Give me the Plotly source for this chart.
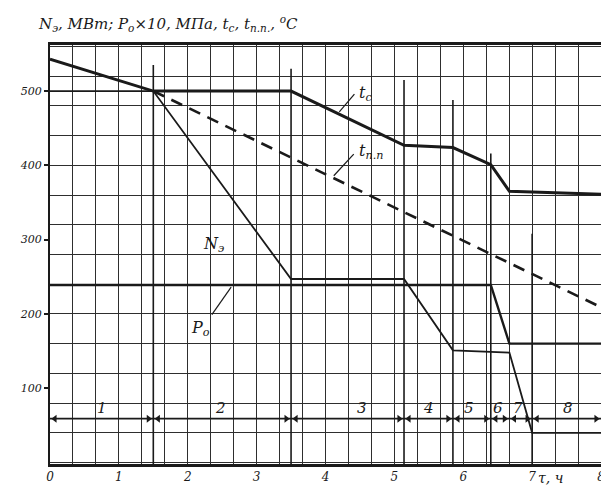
import plotly.graph_objects as go

# ---------------- data ----------------
t_c_time = [0, 1.5, 3.5, 5.14, 5.85, 6.4, 6.67, 8]
t_c_val = [543, 500, 500, 427, 424, 401, 365, 361]

t_pp_time = [1.5, 8]
t_pp_val = [500, 209]

n_e_time = [0, 1.5, 3.5, 5.14, 5.85, 6.67, 7.0, 8]
n_e_val = [500, 500, 247, 247, 151, 148, 40, 40]

p0_time = [0, 6.4, 6.67, 8]
p0_val = [239, 239, 160, 160]

event_times = [1.5, 3.5, 5.14, 5.85, 6.4, 7.0]
event_tops = [535, 530, 515, 488, 416, 308]

phase_bounds = [0, 1.5, 3.5, 5.14, 5.85, 6.4, 6.67, 7.0, 8]
phase_labels = ["1", "2", "3", "4", "5", "6", "7", "8"]
phase_label_x = [0.75, 2.48, 4.53, 5.49, 6.09, 6.5, 6.8, 7.52]
phase_line_level = 59
phase_label_level = 73

# leader lines: (x0, y0, x1, y1)
leader_tc = [4.2, 472, 4.42, 496]
leader_tpp = [4.12, 386, 4.41, 415]
leader_p0 = [2.35, 199, 2.63, 236]

x_tick_vals = [0, 1, 2, 3, 4, 5, 6, 7, 8]
x_tick_text = ["0", "1", "2", "3", "4", "5", "6", "7", "8"]
y_tick_vals = [100, 200, 300, 400, 500]
y_tick_text = ["100", "200", "300", "400", "500"]

INK = "#1a1a1a"
GRID = "#2e2e2e"
HAND = "DejaVu Serif"

fig = go.Figure()

# event verticals
for t, top in zip(event_times, event_tops):
    fig.add_trace(go.Scatter(x=[t, t], y=[top, -2], mode="lines",
                             line=dict(color=INK, width=1.6),
                             hoverinfo="skip", showlegend=False))

# phase base line
fig.add_trace(go.Scatter(x=[0, 8], y=[phase_line_level, phase_line_level], mode="lines",
                         line=dict(color=INK, width=1.8), hoverinfo="skip", showlegend=False))

# phase arrowheads (pointing outward to each segment boundary)
arrow_right_x = [b - 0.07 for b in phase_bounds[1:]]
arrow_left_x = [a + 0.07 for a in phase_bounds[:-1]]
fig.add_trace(go.Scatter(x=arrow_right_x, y=[phase_line_level] * len(arrow_right_x),
                         mode="markers", marker=dict(symbol="triangle-right", size=7, color=INK),
                         hoverinfo="skip", showlegend=False))
fig.add_trace(go.Scatter(x=arrow_left_x, y=[phase_line_level] * len(arrow_left_x),
                         mode="markers", marker=dict(symbol="triangle-left", size=7, color=INK),
                         hoverinfo="skip", showlegend=False))

# leaders
for ld in (leader_tc, leader_tpp, leader_p0):
    fig.add_trace(go.Scatter(x=[ld[0], ld[2]], y=[ld[1], ld[3]], mode="lines",
                             line=dict(color=INK, width=1.2), hoverinfo="skip", showlegend=False))

fig.add_trace(go.Scatter(x=t_pp_time, y=t_pp_val, mode="lines", name="tпп",
                         line=dict(color=INK, width=2.6, dash="12px,8px"), showlegend=False))
fig.add_trace(go.Scatter(x=p0_time, y=p0_val, mode="lines", name="P0",
                         line=dict(color=INK, width=2.4), showlegend=False))
fig.add_trace(go.Scatter(x=n_e_time, y=n_e_val, mode="lines", name="Nэ",
                         line=dict(color=INK, width=1.8), showlegend=False))
fig.add_trace(go.Scatter(x=t_c_time, y=t_c_val, mode="lines", name="tс",
                         line=dict(color=INK, width=3), showlegend=False))

annotations = []
for i in range(len(phase_labels)):
    annotations.append(dict(x=phase_label_x[i], y=phase_label_level, xref="x", yref="y",
                            text=phase_labels[i], showarrow=False,
                            font=dict(family=HAND, size=15, color=INK, style="italic")))

annotations += [
    dict(x=4.58, y=497, xref="x", yref="y", text="t<sub>c</sub>", showarrow=False,
         font=dict(family=HAND, size=16, color=INK, style="italic")),
    dict(x=4.66, y=418, xref="x", yref="y", text="t<sub>п.п</sub>", showarrow=False,
         font=dict(family=HAND, size=16, color=INK, style="italic")),
    dict(x=2.38, y=293, xref="x", yref="y", text="N<sub>э</sub>", showarrow=False,
         font=dict(family=HAND, size=16, color=INK, style="italic")),
    dict(x=2.18, y=180, xref="x", yref="y", text="P<sub>o</sub>", showarrow=False,
         font=dict(family=HAND, size=16, color=INK, style="italic")),
    dict(x=7.27, y=0, xref="x", yref="y", yshift=-15, text="τ, ч", showarrow=False,
         font=dict(family=HAND, size=14, color=INK, style="italic")),
]

fig.update_layout(
    width=609, height=488,
    margin=dict(l=32, r=12, t=37, b=29),
    paper_bgcolor="white", plot_bgcolor="white",
    annotations=annotations,
    xaxis=dict(range=[0, 8], tickmode="array", tickvals=x_tick_vals, ticktext=x_tick_text,
               showgrid=True, gridcolor=GRID, gridwidth=1.3,
               minor=dict(tickmode="linear", tick0=0, dtick=1 / 3, showgrid=True,
                          gridcolor=GRID, gridwidth=1.2, ticks=""),
               showline=True, linecolor=INK, linewidth=2.5, mirror=True,
               ticks="", zeroline=False,
               tickfont=dict(family=HAND, size=12, color=INK, style="italic")),
    yaxis=dict(range=[-2, 562], tickmode="array", tickvals=y_tick_vals, ticktext=y_tick_text,
               showgrid=False,
               minor=dict(tickmode="linear", tick0=0, dtick=40, showgrid=True,
                          gridcolor=GRID, gridwidth=1.2, ticks=""),
               showline=True, linecolor=INK, linewidth=2.2, mirror=True,
               ticks="outside", ticklen=4, tickwidth=1.5, tickcolor=INK, zeroline=False,
               tickfont=dict(family=HAND, size=11, color=INK, style="italic")),
)

fig.add_annotation(x=0, y=1, xref="paper", yref="paper", xshift=-14, yshift=22,
                   xanchor="left", yanchor="middle", showarrow=False,
                   text="N<sub>э</sub>, МВт; P<sub>o</sub>×10, МПа, t<sub>c</sub>, t<sub>п.п.</sub>, <sup>o</sup>C",
                   font=dict(family=HAND, size=15, color=INK, style="italic"))

fig.write_html("out.html")
